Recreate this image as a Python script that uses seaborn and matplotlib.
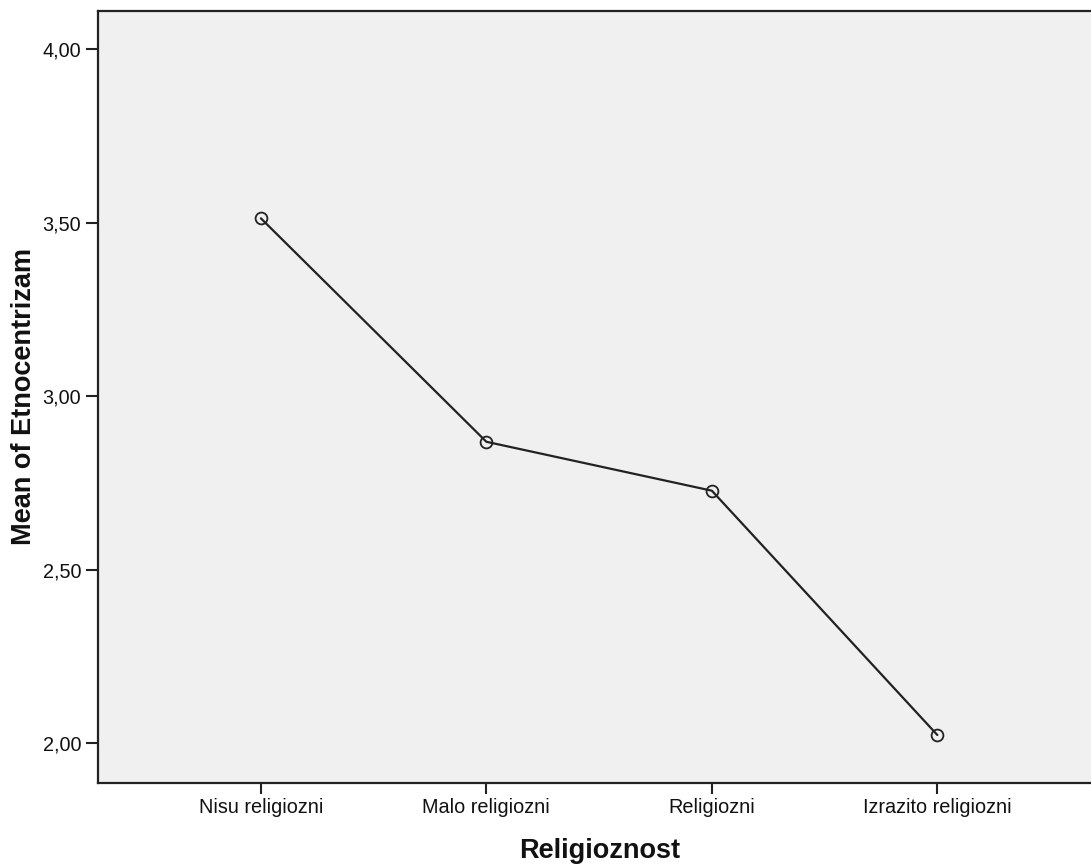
import matplotlib
matplotlib.use("Agg")
import matplotlib.pyplot as plt
import seaborn as sns
import pandas as pd
from matplotlib.ticker import FuncFormatter

categories = ["Nisu religiozni", "Malo religiozni", "Religiozni", "Izrazito religiozni"]
means = [3.513, 2.869, 2.728, 2.024]
yticks = [2.0, 2.5, 3.0, 3.5, 4.0]

df = pd.DataFrame({"Religioznost": categories, "Mean": means})

sns.set_style("ticks")
plt.rcParams['font.family'] = ['Liberation Sans', 'DejaVu Sans']

fig = plt.figure(figsize=(10.91, 8.68), dpi=100)
ax = fig.add_axes([98/1091, 1 - 782.5/868, (1091 - 98)/1091 + 0.01, (782.5 - 10.5)/868])
ax.set_facecolor("#f0f0f0")

sns.pointplot(data=df, x="Religioznost", y="Mean", order=categories, errorbar=None,
              color="#222222", markers="o", linewidth=1.6, markersize=8.5,
              markerfacecolor="none", markeredgewidth=1.3, ax=ax)

ax.set_xlim(-0.7225, 3.68 + 0.05)
ax.set_ylim(1.887, 4.112)
ax.set_yticks(yticks)
ax.yaxis.set_major_formatter(FuncFormatter(lambda v, p: f"{v:.2f}".replace(".", ",")))

for s in ["left", "bottom", "top"]:
    ax.spines[s].set_color("#222222")
    ax.spines[s].set_linewidth(1.6)
ax.spines["right"].set_visible(False)

ax.tick_params(axis="both", direction="out", length=9, width=1.5, color="#222222",
               labelsize=14.3, labelcolor="#111111", pad=3)
ax.tick_params(axis="x", length=8)

ax.set_xlabel("Religioznost", fontsize=19.5, fontweight="bold", labelpad=15, color="#111111")
ax.set_ylabel("Mean of Etnocentrizam", fontsize=19.5, fontweight="bold", labelpad=4, color="#111111")

fig.savefig("out.png", dpi=100)
